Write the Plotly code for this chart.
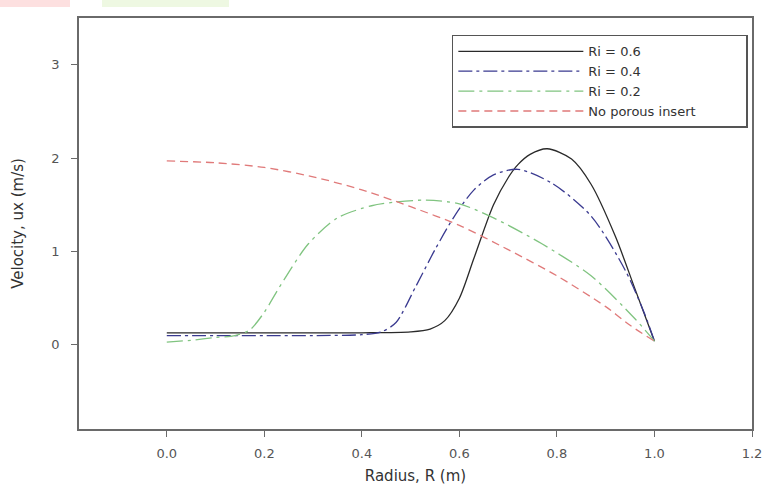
import plotly.graph_objects as go

# Ri = 0.6 (solid black)
r_06 = [0, 0.1, 0.2, 0.3, 0.4, 0.5, 0.54, 0.57, 0.6, 0.63, 0.67, 0.70, 0.72, 0.745, 0.78, 0.83, 0.87, 0.92, 0.96, 1.0]
u_06 = [0.13, 0.13, 0.13, 0.13, 0.13, 0.14, 0.17, 0.26, 0.50, 0.93, 1.50, 1.79, 1.93, 2.04, 2.10, 1.99, 1.72, 1.16, 0.60, 0.04]

# Ri = 0.4 (blue dash-dot)
r_04 = [0, 0.1, 0.2, 0.3, 0.4, 0.44, 0.47, 0.51, 0.55, 0.59, 0.63, 0.67, 0.72, 0.79, 0.87, 0.94, 0.98, 1.0]
u_04 = [0.10, 0.10, 0.10, 0.10, 0.11, 0.14, 0.24, 0.62, 1.02, 1.38, 1.66, 1.82, 1.88, 1.73, 1.38, 0.80, 0.33, 0.04]

# Ri = 0.2 (green dash-dot)
r_02 = [0, 0.05, 0.1, 0.14, 0.17, 0.2, 0.23, 0.29, 0.35, 0.42, 0.47, 0.53, 0.6, 0.67, 0.77, 0.87, 0.96, 1.0]
u_02 = [0.03, 0.05, 0.08, 0.10, 0.16, 0.35, 0.61, 1.08, 1.36, 1.49, 1.53, 1.55, 1.51, 1.36, 1.08, 0.74, 0.28, 0.04]

# No porous insert (red dashed)
r_np = [0, 0.1, 0.2, 0.3, 0.4, 0.5, 0.6, 0.7, 0.8, 0.9, 0.95, 1.0]
u_np = [1.97, 1.95, 1.90, 1.80, 1.66, 1.48, 1.28, 1.02, 0.74, 0.41, 0.21, 0.04]

x_ticks = [0.0, 0.2, 0.4, 0.6, 0.8, 1.0, 1.2]
x_tick_text = ["0.0", "0.2", "0.4", "0.6", "0.8", "1.0", "1.2"]
y_ticks = [0, 1, 2, 3]
series_names = ["Ri = 0.6", "Ri = 0.4", "Ri = 0.2", "No porous insert"]

PAD = "\u00a0" * 11

fig = go.Figure()
fig.add_trace(go.Scatter(x=r_06, y=u_06, mode="lines", name=series_names[0],
                         line=dict(color="#2a2a2a", width=1.3, shape="spline", smoothing=0.8)))
fig.add_trace(go.Scatter(x=r_04, y=u_04, mode="lines", name=series_names[1],
                         line=dict(color="#3a3a90", width=1.3, dash="14px,4px,3px,4px", shape="spline", smoothing=0.8)))
fig.add_trace(go.Scatter(x=r_02, y=u_02, mode="lines", name=series_names[2],
                         line=dict(color="#80c480", width=1.3, dash="16px,5px,3px,5px", shape="spline", smoothing=0.8)))
fig.add_trace(go.Scatter(x=r_np, y=u_np, mode="lines", name=series_names[3] + PAD,
                         line=dict(color="#e07a7a", width=1.3, dash="8px,5px", shape="spline", smoothing=0.8)))

axis_common = dict(showline=True, mirror=True, linecolor="#6a6a6a", linewidth=1.5,
                   ticks="outside", ticklen=6, tickcolor="#6a6a6a", tickwidth=1,
                   showgrid=False, zeroline=False, automargin=False,
                   tickfont=dict(family="DejaVu Sans", size=13, color="#555555"))

fig.update_layout(
    width=764, height=496,
    margin=dict(l=79, r=12, t=18, b=67),
    paper_bgcolor="white", plot_bgcolor="white",
    xaxis=dict(range=[-0.18, 1.2], tickvals=x_ticks, ticktext=x_tick_text,
               ticklabelstandoff=6,
               title=dict(text="Radius, R (m)", font=dict(family="DejaVu Sans", size=15, color="#333333"), standoff=10),
               **axis_common),
    yaxis=dict(range=[-0.9, 3.5], tickvals=y_ticks, ticklabelstandoff=9,
               title=dict(text="Velocity, ux (m/s)", font=dict(family="DejaVu Sans", size=15, color="#333333"), standoff=24),
               **axis_common),
    legend=dict(x=0.554, y=0.959, xanchor="left", yanchor="top",
                bgcolor="white", bordercolor="#555555", borderwidth=1.5,
                font=dict(family="DejaVu Sans", size=13, color="#333333"),
                itemwidth=125, tracegroupgap=0),
    showlegend=True,
    shapes=[
        dict(type="rect", xref="paper", yref="paper", x0=-79/673, x1=-9/673, y0=1+11/411, y1=1+18/411,
             fillcolor="#fde0e0", line=dict(width=0), layer="below"),
        dict(type="rect", xref="paper", yref="paper", x0=23/673, x1=150/673, y0=1+11/411, y1=1+18/411,
             fillcolor="#eef8e2", line=dict(width=0), layer="below"),
    ],
)

fig.write_html("out.html", config={"responsive": False, "displayModeBar": False},
               post_script="document.body.style.margin='0';document.body.style.overflow='hidden';")
